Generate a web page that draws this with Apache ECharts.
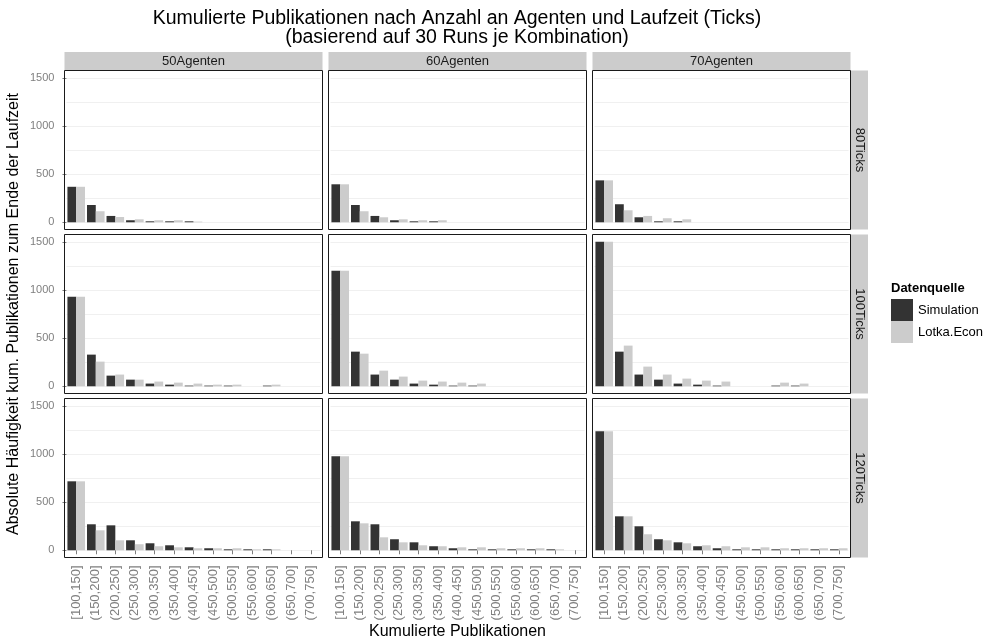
<!DOCTYPE html>
<html><head><meta charset="utf-8">
<script src="https://cdn.jsdelivr.net/npm/echarts@6/dist/echarts.min.js"></script>
<style>html,body{margin:0;padding:0;background:#fff}#c{width:985px;height:643px}</style>
</head><body><div id="c"></div>
<script>
const categories = ['[100,150]','(150,200]','(200,250]','(250,300]','(300,350]','(350,400]','(400,450]','(450,500]','(500,550]','(550,600]','(600,650]','(650,700]','(700,750]'];
const agentLabels = ['50Agenten','60Agenten','70Agenten'];
const tickLabels = ['80Ticks','100Ticks','120Ticks'];
const yTickValues = [0,500,1000,1500];
const yGridValues = [0,250,500,750,1000,1250,1500];
const seriesNames = ['Simulation','Lotka.Econ'];

const sim_50A_80T  = [370,180,66,21,10,10,10,0,0,0,0,0,0];
const lot_50A_80T  = [370,115,55,31,21,21,7,0,0,0,0,0,0];
const sim_60A_80T  = [396,180,66,21,10,10,0,0,0,0,0,0,0];
const lot_60A_80T  = [396,115,52,31,21,21,0,0,0,0,0,0,0];
const sim_70A_80T  = [437,188,52,10,10,0,0,0,0,0,0,0,0];
const lot_70A_80T  = [437,125,66,42,31,0,0,0,0,0,0,0,0];

const sim_50A_100T = [934,330,111,69,28,17,7,7,7,0,7,0,0];
const lot_50A_100T = [934,257,122,69,49,38,28,17,17,0,17,0,0];
const sim_60A_100T = [1205,361,122,69,28,17,7,7,0,0,0,0,0];
const lot_60A_100T = [1205,340,163,101,59,49,38,28,0,0,0,0,0];
const sim_70A_100T = [1507,361,122,69,28,17,7,0,0,7,7,0,0];
const lot_70A_100T = [1507,424,205,122,80,59,49,0,0,38,28,0,0];

const sim_50A_120T = [719,271,260,104,73,52,31,21,10,10,10,0,0];
const lot_50A_120T = [719,208,104,63,42,31,21,21,21,10,10,0,0];
const sim_60A_120T = [979,302,271,115,83,42,21,10,10,10,10,10,0];
const lot_60A_120T = [979,281,135,83,52,42,31,31,21,21,21,10,0];
const sim_70A_120T = [1240,354,250,115,83,42,21,10,10,10,10,10,10];
const lot_70A_120T = [1240,354,167,104,73,52,42,31,31,21,21,21,21];

const simData = [[sim_50A_80T,sim_60A_80T,sim_70A_80T],[sim_50A_100T,sim_60A_100T,sim_70A_100T],[sim_50A_120T,sim_60A_120T,sim_70A_120T]];
const lotData = [[lot_50A_80T,lot_60A_80T,lot_70A_80T],[lot_50A_100T,lot_60A_100T,lot_70A_100T],[lot_50A_120T,lot_60A_120T,lot_70A_120T]];

// layout
const FONT = 'Liberation Sans, Arial, Helvetica, sans-serif';
const colX = [64.5, 328.5, 592.5], rowY = [70.5, 234.5, 398.5], PW = 258, PH = 159;
const inset = PW * 0.1 / 13.2;
let M = 0;
simData.concat(lotData).forEach(r => r.forEach(a => a.forEach(v => { if (v > M) M = v; })));
const yMin = -0.05 * M, yMax = 1.05 * M;

const grid = [], xAxis = [], yAxis = [], series = [], graphic = [];
for (let r = 0; r < 3; r++) {
  for (let c = 0; c < 3; c++) {
    const gi = grid.length;
    grid.push({left: colX[c] + inset, top: rowY[r], width: PW - 2 * inset, height: PH, show: false});
    xAxis.push({
      type: 'category', gridIndex: gi, data: categories,
      axisLine: {show: false},
      axisTick: {show: r === 2, alignWithLabel: true, length: 4, lineStyle: {color: '#7f7f7f'}},
      axisLabel: {show: r === 2, rotate: 90, interval: 0, margin: 8, color: '#7f7f7f', fontSize: 13, fontFamily: FONT},
      splitLine: {show: false}
    });
    const ya = yAxis.length;
    yAxis.push({
      type: 'value', gridIndex: gi, min: yMin, max: yMax,
      axisLine: {show: false},
      axisTick: {show: false, customValues: yGridValues},
      axisLabel: {show: c === 0, customValues: yTickValues, margin: 12, color: '#7f7f7f', fontSize: 11, fontFamily: FONT,
        formatter: v => String(Math.round(v))},
      splitLine: {show: true, lineStyle: {color: '#F0F0F0', width: 1}}
    });
    if (c === 0) {
      yAxis.push({
        type: 'value', gridIndex: gi, min: yMin, max: yMax, position: 'left',
        axisLine: {show: false},
        axisTick: {show: true, customValues: yTickValues, length: 4, lineStyle: {color: '#7f7f7f'}},
        axisLabel: {show: false}, splitLine: {show: false}
      });
    }
    series.push({type: 'bar', name: seriesNames[0], xAxisIndex: gi, yAxisIndex: ya, data: simData[r][c],
      itemStyle: {color: '#333333'}, barGap: '0%', barCategoryGap: '10%', animation: false});
    series.push({type: 'bar', name: seriesNames[1], xAxisIndex: gi, yAxisIndex: ya, data: lotData[r][c],
      itemStyle: {color: '#CCCCCC'}, barGap: '0%', barCategoryGap: '10%', animation: false});
    graphic.push({type: 'rect', z: 100, silent: true,
      shape: {x: colX[c], y: rowY[r], width: PW, height: PH},
      style: {fill: 'none', stroke: '#1a1a1a', lineWidth: 1}});
  }
}
// top strips
for (let c = 0; c < 3; c++) {
  graphic.push({type: 'rect', shape: {x: colX[c], y: 52, width: PW, height: 18}, style: {fill: '#CCCCCC'}});
  graphic.push({type: 'text', x: colX[c] + PW / 2, y: 61, style: {text: agentLabels[c], fill: '#1a1a1a', fontSize: 13, fontFamily: FONT, align: 'center', verticalAlign: 'middle'}});
}
// right strips
for (let r = 0; r < 3; r++) {
  graphic.push({type: 'rect', shape: {x: 851, y: rowY[r], width: 17, height: PH}, style: {fill: '#CCCCCC'}});
  graphic.push({type: 'text', x: 859.5, y: rowY[r] + PH / 2, rotation: -Math.PI / 2, style: {text: tickLabels[r], fill: '#1a1a1a', fontSize: 13, fontFamily: FONT, align: 'center', verticalAlign: 'middle'}});
}
// titles
graphic.push({type: 'text', x: 457, y: 19, style: {text: 'Kumulierte Publikationen nach Anzahl an Agenten und Laufzeit (Ticks)', fill: '#000', fontSize: 19.5, fontFamily: FONT, align: 'center', verticalAlign: 'middle'}});
graphic.push({type: 'text', x: 457, y: 38, style: {text: '(basierend auf 30 Runs je Kombination)', fill: '#000', fontSize: 19.5, fontFamily: FONT, align: 'center', verticalAlign: 'middle'}});
graphic.push({type: 'text', x: 457.5, y: 632, style: {text: 'Kumulierte Publikationen', fill: '#000', fontSize: 16, fontFamily: FONT, align: 'center', verticalAlign: 'middle'}});
graphic.push({type: 'text', x: 14, y: 314, rotation: Math.PI / 2, style: {text: 'Absolute Häufigkeit kum. Publikationen zum Ende der Laufzeit', fill: '#000', fontSize: 16, fontFamily: FONT, align: 'center', verticalAlign: 'middle'}});
graphic.push({type: 'text', x: 891, y: 288, style: {text: 'Datenquelle', fill: '#000', fontSize: 13, fontWeight: 'bold', fontFamily: FONT, align: 'left', verticalAlign: 'middle'}});

const chart = echarts.init(document.getElementById('c'), null, {renderer: 'canvas'});
chart.setOption({
  animation: false,
  backgroundColor: '#fff',
  grid, xAxis, yAxis, series, graphic,
  legend: {data: seriesNames, orient: 'vertical', left: 891, top: 299, padding: 0, itemWidth: 22, itemHeight: 22, itemGap: 0,
    icon: 'rect', selectedMode: false, textStyle: {fontSize: 13, color: '#000', fontFamily: FONT}, itemStyle: {borderWidth: 0}}
});
</script></body></html>
